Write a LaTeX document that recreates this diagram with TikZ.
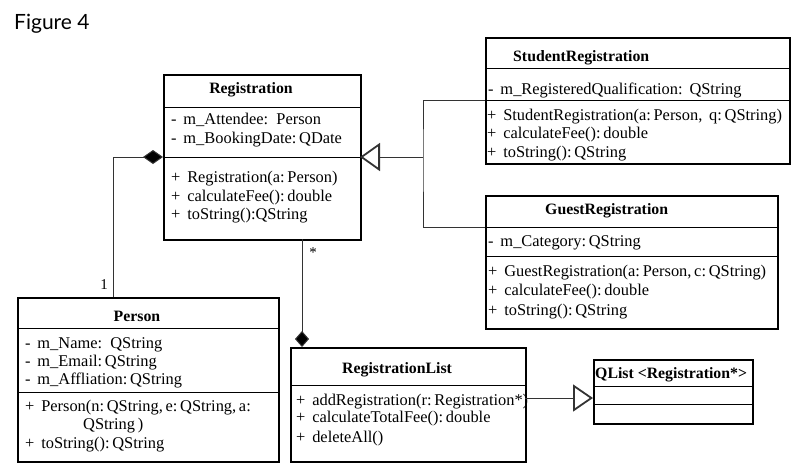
\documentclass[tikz,border=0pt]{standalone}
\usepackage{fontspec}
\setmainfont{Liberation Serif}
\newfontfamily\figfont{Lato}
\usetikzlibrary{arrows.meta}
\tikzset{
  cls/.style={draw, line width=2.4pt, inner sep=0pt, anchor=north west},
  txt/.style={anchor=base west, inner sep=0pt, font=\fontsize{16.4}{19}\selectfont},
  ttl/.style={anchor=base, inner sep=0pt, font=\bfseries\fontsize{15.8}{19}\selectfont},
  ttlw/.style={anchor=base west, inner sep=0pt, font=\bfseries\fontsize{15.8}{19}\selectfont},
  sepl/.style={line width=1pt},
  conn/.style={line width=1pt, draw=black!80},
  mult/.style={inner sep=0pt, font=\fontsize{15}{17}\selectfont},
}
\begin{document}
\begin{tikzpicture}[x=1pt,y=-1pt]
\useasboundingbox (0,0) rectangle (802,467);
\node[anchor=base west, inner sep=0pt, font=\figfont\fontsize{21}{25}\selectfont] (fig) at (14,29) {Figure 4};

% Registration
\node[cls, minimum width=197pt, minimum height=165pt] (reg) at (163,74) {};
\draw[sepl] (163,107) -- (360,107);
\draw[sepl] (163,157) -- (360,157);
\node[ttl] (regt) at (251,93) {Registration};
\node[txt] (rega1) at (171,124.5) {-\, m\_Attendee:\, Person};
\node[txt] (rega2) at (171,143) {-\, m\_BookingDate:\,QDate};
\node[txt] (rego1) at (171,182.5) {+\, Registration(a:\,Person)};
\node[txt] (rego2) at (171,201) {+\, calculateFee():\,double};
\node[txt] (rego3) at (171,219.5) {+\, toString():QString};

% StudentRegistration
\node[cls, minimum width=304pt, minimum height=126pt] (stu) at (485,37) {};
\draw[sepl] (485,68) -- (789,68);
\draw[sepl] (485,100) -- (789,100);
\node[ttlw] (stut) at (513,61.5) {StudentRegistration};
\node[txt] (stua1) at (488,94) {-\, m\_RegisteredQualification:\,\ QString};
\node[txt] (stuo1) at (487,120.5) {+\, StudentRegistration(a:\,Person,\ \,q:\,QString)};
\node[txt] (stuo2) at (487,138.5) {+\, calculateFee():\,double};
\node[txt] (stuo3) at (487,157) {+\, toString():\,QString};

% GuestRegistration
\node[cls, minimum width=292pt, minimum height=133pt] (gue) at (485,195) {};
\draw[sepl] (485,227) -- (777,227);
\draw[sepl] (485,256) -- (777,256);
\node[ttlw] (guet) at (545,214) {GuestRegistration};
\node[txt] (guea1) at (488,246) {-\, m\_Category:\,QString};
\node[txt] (gueo1) at (488,276) {+\, GuestRegistration(a:\,Person,\,c:\,QString)};
\node[txt] (gueo2) at (488,295) {+\, calculateFee():\,double};
\node[txt] (gueo3) at (488,315) {+\, toString():\,QString};

% Person
\node[cls, minimum width=261pt, minimum height=164pt] (per) at (17,297) {};
\draw[sepl] (17,328.5) -- (278,328.5);
\draw[sepl] (17,392) -- (278,392);
\node[ttl] (pert) at (137,321.5) {Person};
\node[txt] (pera1) at (25,348) {-\, m\_Name:\, QString};
\node[txt] (pera2) at (25,366) {-\, m\_Email:\,QString};
\node[txt] (pera3) at (25,384.5) {-\, m\_Affliation:\,QString};
\node[txt] (pero1) at (25,411) {+\, Person(n:\,QString,\,e:\,QString,\,a:};
\node[txt] (pero1b) at (83,429.5) {QString\,)};
\node[txt] (pero2) at (25,448) {+\, toString():\,QString};

% RegistrationList
\node[cls, minimum width=235pt, minimum height=114pt] (rl) at (290,347) {};
\draw[sepl] (290,385) -- (525,385);
\node[ttlw] (rlt) at (342,373) {RegistrationList};
\node[txt] (rlo1) at (296,405) {+\, addRegistration(r:\,Registration*)};
\node[txt] (rlo2) at (296,422.5) {+\, calculateTotalFee():\,double};
\node[txt] (rlo3) at (296,442) {+\, deleteAll()};

% QList
\node[cls, minimum width=159pt, minimum height=64pt] (ql) at (593,359) {};
\draw[sepl] (593,386) -- (752,386);
\draw[sepl] (593,404) -- (752,404);
\node[ttlw] (qlt) at (595,378) {QList <Registration*>};

% connectors
\coordinate (regsepL) at (163,157);
\coordinate (regsepR) at (360,157);
\coordinate (b1) at (113,157);
\coordinate (jn) at (423,157);
\coordinate (stusep) at (485,100);
\coordinate (guesep) at (485,227);
\coordinate (regbot) at (302,239);
\coordinate (rltop) at (302,347);
\coordinate (rlright) at (525,398);
\coordinate (qlleft) at (593,398);

\draw[conn, {Diamond[length=20pt,width=14pt,fill=black]}-] (regsepL) -- (b1) -- (b1 |- per.north);
\node[mult] (m1) at (104,285) {1};
\draw[conn] (stusep) -| (jn) |- (guesep);
\draw[conn, -{Triangle[open,length=20pt,width=28pt,line width=1.8pt,fill=white]}] (jn) -- (regsepR);
\draw[conn, -{Diamond[length=16pt,width=14pt,fill=black]}] (regbot) -- (rltop);
\node[mult] (m2) at (313,253) {*};
\draw[conn, -{Triangle[open,length=20pt,width=27pt,line width=1.8pt,fill=white]}] (rlright) -- (qlleft);
\end{tikzpicture}
\end{document}
